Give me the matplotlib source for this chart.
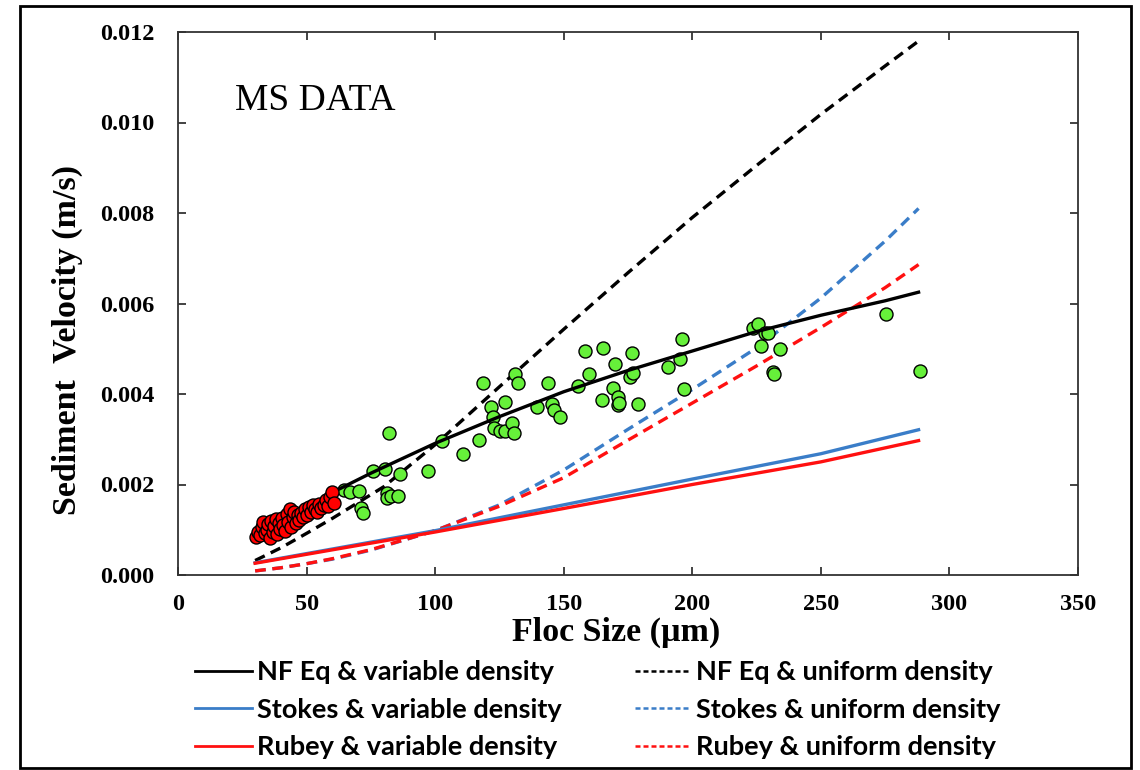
import matplotlib
matplotlib.use("Agg")
import matplotlib.pyplot as plt
from matplotlib.lines import Line2D
from matplotlib.patches import Rectangle
from matplotlib.ticker import FormatStrFormatter, MultipleLocator

# ---------------- data ----------------
green_x = [110.8, 117.0, 118.6, 121.9, 122.5, 122.9, 125.2, 127.0, 127.2, 130.0,
           130.7, 131.1, 132.4, 139.8, 143.9, 145.6, 146.3, 148.6, 155.4, 158.1,
           159.9, 164.8, 165.1, 169.0, 170.0, 171.0, 171.0, 171.6, 175.8, 177.0,
           176.7, 179.0, 190.7, 195.1, 195.9, 196.9, 223.6, 225.5, 228.1, 229.4,
           226.8, 234.2, 231.4, 231.6, 275.5, 288.5, 82.2, 102.8, 75.7, 80.4,
           86.2, 97.2, 64.4, 66.8, 70.5, 71.3, 71.8, 81.1, 81.3, 83.0, 85.6]
green_y = [0.002667, 0.002983, 0.004236, 0.003719, 0.003485, 0.003255, 0.003182, 0.003830,
           0.003189, 0.003352, 0.003145, 0.004442, 0.004236, 0.003706, 0.004236, 0.003779,
           0.003646, 0.003485, 0.004177, 0.004950, 0.004442, 0.003867, 0.005023, 0.004126,
           0.004656, 0.003940, 0.003757, 0.003808, 0.004382, 0.004471, 0.004899, 0.003779,
           0.004603, 0.004767, 0.005209, 0.004104, 0.005452, 0.005540, 0.005341, 0.005341,
           0.005061, 0.004994, 0.004493, 0.004442, 0.005768, 0.004508, 0.003131, 0.002961,
           0.002305, 0.002336, 0.002225, 0.002305, 0.001878, 0.001828, 0.001856, 0.001474,
           0.001364, 0.001806, 0.001695, 0.001752, 0.001752]

red_x = [30.5, 31.2, 32.0, 32.5, 33.1, 33.8, 34.5, 35.0, 35.6, 36.2, 36.8, 37.5, 38.0,
         38.6, 39.2, 39.8, 40.5, 41.0, 41.6, 42.2, 42.8, 43.4, 44.0, 44.6, 45.2, 45.8,
         46.5, 47.2, 48.0, 48.8, 49.5, 50.2, 51.0, 51.8, 52.5, 53.3, 54.0, 55.0, 55.8,
         56.6, 57.5, 58.3, 59.2, 59.8, 60.5]
red_y = [0.00085, 0.00095, 0.00088, 0.00105, 0.00118, 0.00092, 0.00100, 0.00112, 0.00082,
         0.00120, 0.00096, 0.00108, 0.00124, 0.00090, 0.00115, 0.00102, 0.00126, 0.00110,
         0.00098, 0.00135, 0.00118, 0.00145, 0.00105, 0.00128, 0.00140, 0.00115, 0.00132,
         0.00122, 0.00136, 0.00128, 0.00146, 0.00132, 0.00150, 0.00140, 0.00155, 0.00145,
         0.00140, 0.00158, 0.00148, 0.00155, 0.00165, 0.00152, 0.00172, 0.00183, 0.00160]

nf_var_x = [30, 40, 50, 62, 75, 100, 125, 150, 175, 200, 225, 250, 275, 288]
nf_var_y = [0.00090, 0.00118, 0.00150, 0.00188, 0.00225, 0.00291, 0.00350, 0.00405,
            0.00452, 0.00495, 0.00538, 0.00574, 0.00606, 0.00625]

nf_uni_x = [30, 40, 50, 60, 70, 80, 100, 125, 150, 175, 200, 225, 250, 275, 288]
nf_uni_y = [0.00032, 0.00060, 0.00092, 0.00125, 0.00160, 0.00195, 0.00288, 0.00416,
            0.00543, 0.00668, 0.00790, 0.00905, 0.01018, 0.01125, 0.01180]

stokes_var_x = [30, 100, 150, 200, 250, 288]
stokes_var_y = [0.00027, 0.00098, 0.00155, 0.00212, 0.00268, 0.00321]

stokes_uni_x = [30, 40, 50, 60, 75, 100, 125, 150, 175, 200, 225, 250, 275, 288]
stokes_uni_y = [0.00009, 0.00016, 0.00025, 0.00035, 0.00055, 0.00098, 0.00155, 0.00232,
                0.00322, 0.00410, 0.00502, 0.00612, 0.00738, 0.00810]

rubey_var_x = [30, 100, 150, 200, 250, 288]
rubey_var_y = [0.00026, 0.00095, 0.00147, 0.00200, 0.00250, 0.00297]

rubey_uni_x = [30, 40, 50, 60, 75, 100, 125, 150, 175, 200, 225, 250, 275, 288]
rubey_uni_y = [0.00009, 0.00016, 0.00025, 0.00036, 0.00056, 0.00098, 0.00152, 0.00215,
               0.00298, 0.00380, 0.00462, 0.00547, 0.00635, 0.00686]

legend_labels = ["NF Eq & variable density", "NF Eq & uniform density",
                 "Stokes & variable density", "Stokes & uniform density",
                 "Rubey & variable density", "Rubey & uniform density"]

# ---------------- styles ----------------
BLUE = "#3a7dc8"
RED = "#ff1010"
GREEN = "#66f03a"
SERIF = ["Liberation Serif", "DejaVu Serif"]

fig = plt.figure(figsize=(11.4, 7.7), dpi=100)
fig.patch.set_facecolor("white")

# outer frame
fig.patches.append(Rectangle((20 / 1140, 2 / 770), 1111 / 1140, 762 / 770,
                             transform=fig.transFigure, fill=False,
                             edgecolor="black", linewidth=2, zorder=0))

ax = fig.add_axes([178 / 1140, 1 - 575 / 770, 900 / 1140, 543 / 770])

lw = 2.4
dash = (0, (3.2, 2.0))
ax.plot(nf_uni_x, nf_uni_y, color="black", lw=lw, ls=dash, zorder=2)
ax.plot(stokes_uni_x, stokes_uni_y, color=BLUE, lw=lw, ls=dash, zorder=2)
ax.plot(rubey_uni_x, rubey_uni_y, color=RED, lw=lw, ls=dash, zorder=2)
ax.plot(stokes_var_x, stokes_var_y, color=BLUE, lw=lw, zorder=2)
ax.plot(rubey_var_x, rubey_var_y, color=RED, lw=lw, zorder=2)

ax.scatter(green_x, green_y, s=88, facecolor=GREEN, edgecolor="black", linewidth=1.0, zorder=3)
ax.plot(nf_var_x, nf_var_y, color="black", lw=lw, zorder=4)
ax.scatter(red_x, red_y, s=88, facecolor="#ff0000", edgecolor="black", linewidth=1.0, zorder=5)

ax.set_xlim(0, 350)
ax.set_ylim(0, 0.012)
ax.xaxis.set_major_locator(MultipleLocator(50))
ax.yaxis.set_major_locator(MultipleLocator(0.002))
ax.yaxis.set_major_formatter(FormatStrFormatter("%.3f"))
ax.tick_params(direction="in", length=6, width=1.2, top=True, right=True,
               colors="#222222", labelcolor="black")
ax.tick_params(axis="y", pad=17)
ax.tick_params(axis="x", pad=14)
for lab in ax.get_xticklabels() + ax.get_yticklabels():
    lab.set_fontfamily(SERIF)
    lab.set_fontweight("bold")
    lab.set_fontsize(17.5)
for sp in ax.spines.values():
    sp.set_linewidth(1.3)
    sp.set_color("#333333")

ax.set_xlabel("Floc Size (µm)", fontfamily=SERIF, fontweight="bold", fontsize=24.5)
ax.xaxis.set_label_coords(0.487, -0.076)
ax.set_ylabel("Sediment  Velocity (m/s)", fontfamily=SERIF, fontweight="bold", fontsize=24.5)
ax.yaxis.set_label_coords(-0.106, 0.433)

ax.text(0.063, 0.856, "MS DATA", transform=ax.transAxes, fontfamily=SERIF,
        fontsize=27, ha="left", va="baseline")

handles = [
    Line2D([], [], color="black", lw=2),
    Line2D([], [], color=BLUE, lw=2),
    Line2D([], [], color=RED, lw=2),
    Line2D([], [], color="black", lw=1.8, ls=(0, (2, 1.2))),
    Line2D([], [], color=BLUE, lw=1.8, ls=(0, (2, 1.2))),
    Line2D([], [], color=RED, lw=1.8, ls=(0, (2, 1.2))),
]
labels = [legend_labels[0], legend_labels[2], legend_labels[4],
          legend_labels[1], legend_labels[3], legend_labels[5]]
fig.legend(handles, labels, loc="upper left", bbox_to_anchor=(195 / 1140, 1 - 660 / 770),
           ncol=2, frameon=False, borderpad=0, borderaxespad=0,
           handlelength=2.1, handletextpad=0.18, columnspacing=2.7, labelspacing=0.5,
           prop={"family": ["Lato", "DejaVu Sans"], "weight": "bold", "size": 19.5})

fig.savefig("out.png", dpi=100, facecolor="white")
